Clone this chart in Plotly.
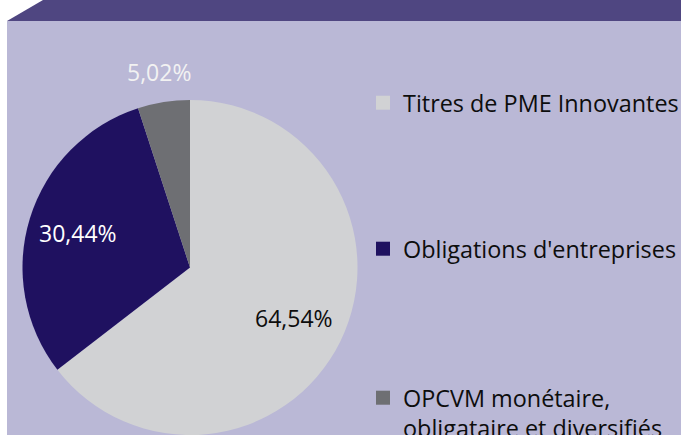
import math
import plotly.graph_objects as go

W, H = 681, 435
FONT = "Open Sans, sans-serif"

# data
labels = ["Titres de PME Innovantes", "Obligations d'entreprises",
          "OPCVM monétaire,<br>obligataire et diversifiés"]
values = [64.54, 30.44, 5.02]
value_text = ["64,54%", "30,44%", "5,02%"]

# styles
slice_colors = ["#d1d2d4", "#1f1160", "#6e6f73"]
label_colors = ["#0d0d0d", "#ffffff", "#f2f2f2"]
label_radius = [0.69, 0.70, 1.18]      # fraction of pie radius
legend_rows = [103, 249, 413]          # px from top, centre of each legend block
PANEL = "#bab8d6"
BANNER = "#4f4681"

PIE_CX, PIE_CY, PIE_R = 190, 267.5, 167.5

fig = go.Figure()

fig.add_trace(go.Pie(
    values=values, labels=labels, sort=False,
    direction="clockwise", rotation=0,
    marker=dict(colors=slice_colors, line=dict(width=0)),
    textinfo="none", hoverinfo="label+percent", showlegend=False,
    domain=dict(x=[(PIE_CX - PIE_R) / W, (PIE_CX + PIE_R) / W],
                y=[(H - PIE_CY - PIE_R) / H, (H - PIE_CY + PIE_R) / H]),
))

# data labels, placed along each slice's mid angle
total = sum(values)
start = 0
for v, txt, col, f in zip(values, value_text, label_colors, label_radius):
    mid = (start + v / 2) / total * 2 * math.pi
    start += v
    px = PIE_CX + f * PIE_R * math.sin(mid)
    py = PIE_CY - f * PIE_R * math.cos(mid)
    fig.add_annotation(x=px / W, y=1 - py / H, xref="paper", yref="paper",
                       xanchor="center", yanchor="middle",
                       text=txt, showarrow=False,
                       font=dict(family=FONT, size=23, color=col))

# legend: one entry per legend box so the rows can be spread out
for i, (name, col) in enumerate(zip(labels, slice_colors)):
    key = "legend" if i == 0 else f"legend{i + 1}"
    fig.add_trace(go.Scatter(
        x=[None], y=[None], mode="markers", name=name, legend=key,
        marker=dict(symbol="square", size=14, color=col),
        hoverinfo="skip", showlegend=True,
    ))
    fig.update_layout({key: dict(
        x=363 / W, xanchor="left", y=1 - legend_rows[i] / H, yanchor="middle",
        valign="top", bgcolor="rgba(0,0,0,0)", borderwidth=0,
        font=dict(family=FONT, size=23.4, color="#0d0d0d"),
    )})

# background panel and slanted banner
fig.add_shape(type="rect", xref="paper", yref="paper",
              x0=7 / W, x1=1, y0=0, y1=1 - 21 / H,
              fillcolor=PANEL, line=dict(width=0), layer="below")
fig.add_shape(type="path", xref="paper", yref="paper",
              path=f"M {7 / W},{1 - 21 / H} L {43 / W},1 L 1,1 L 1,{1 - 21 / H} Z",
              fillcolor=BANNER, line=dict(width=0), layer="below")

fig.update_layout(
    width=W, height=H,
    margin=dict(l=0, r=0, t=0, b=0, autoexpand=False),
    paper_bgcolor="white", plot_bgcolor="rgba(0,0,0,0)",
    font=dict(family=FONT),
    xaxis=dict(visible=False), yaxis=dict(visible=False),
)

# drop the default 8px body margin so the figure sits flush in the window
fig.write_html("out.html", config={"displayModeBar": False},
               post_script="document.body.style.margin='0';")
